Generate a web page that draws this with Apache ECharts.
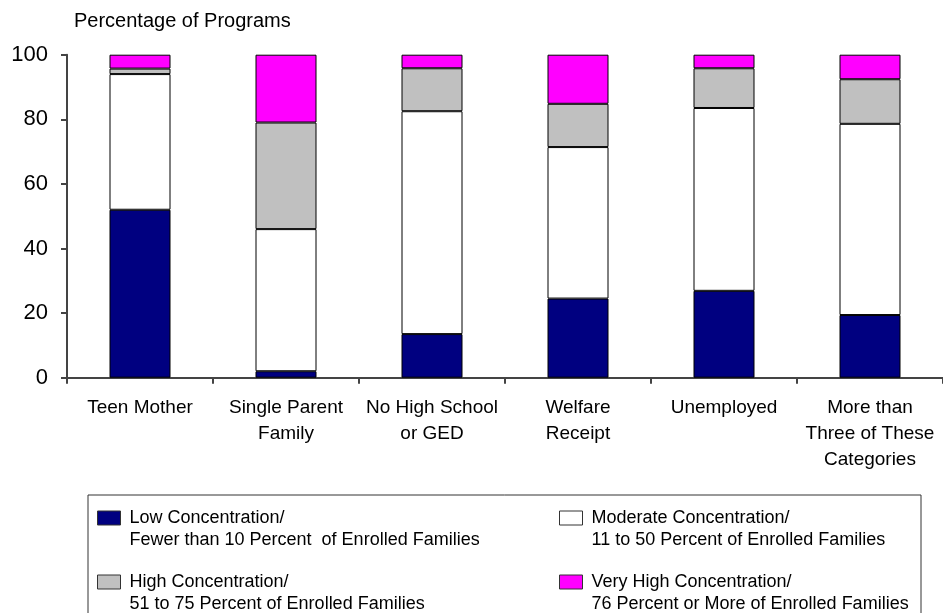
<!DOCTYPE html>
<html>
<head>
<meta charset="utf-8">
<script src="https://cdn.jsdelivr.net/npm/echarts@6/dist/echarts.min.js"></script>
<style>
  html, body { margin: 0; padding: 0; background: #fff; }
  #chart { width: 943px; height: 613px; }
</style>
</head>
<body>
<div id="chart"></div>
<script>
// Program groups along the horizontal axis
const categories = [
  'Teen Mother',
  'Single Parent\nFamily',
  'No High School\nor GED',
  'Welfare\nReceipt',
  'Unemployed',
  'More than\nThree of These\nCategories'
];

// Percentage of programs at each concentration level (stacked to 100)
const lowValues      = [52, 2, 13.5, 24.5, 26.9, 19.4];
const moderateValues = [42, 44, 69, 46.9, 56.6, 59.2];
const highValues     = [1.7, 33, 13.3, 13.4, 12.3, 13.8];
const veryHighValues = [4.3, 21, 4.2, 15.2, 4.2, 7.6];

const seriesNames = [
  'Low Concentration/',
  'Moderate Concentration/',
  'High Concentration/',
  'Very High Concentration/'
];
const legendSubLines = [
  'Fewer than 10 Percent  of Enrolled Families',
  '11 to 50 Percent of Enrolled Families',
  '51 to 75 Percent of Enrolled Families',
  '76 Percent or More of Enrolled Families'
];
const yTicks = [0, 20, 40, 60, 80, 100];
const axisTitle = 'Percentage of Programs';

const colors = ['#000080', '#FFFFFF', '#C0C0C0', '#FF00FF'];
const seriesValues = [lowValues, moderateValues, highValues, veryHighValues];
const FONT = 'Arial, "Liberation Sans", sans-serif';

const chart = echarts.init(document.getElementById('chart'), null, { renderer: 'canvas' });

// Two-column legend grid inside the framed box
const legendPos = [
  { left: 97, top: 485 },
  { left: 559, top: 485 },
  { left: 97, top: 549 },
  { left: 559, top: 549 }
];

const option = {
  animation: false,
  backgroundColor: '#ffffff',
  title: {
    text: axisTitle,
    left: 74,
    top: 11,
    padding: 0,
    textStyle: { fontFamily: FONT, fontSize: 20, fontWeight: 'normal', color: '#000' }
  },
  grid: { left: 67, top: 54.7, width: 884, height: 323 },
  xAxis: {
    type: 'category',
    data: categories,
    axisLine: { show: true, lineStyle: { color: '#444', width: 2 } },
    axisTick: { show: true, length: 6, alignWithLabel: false, lineStyle: { color: '#444', width: 2 } },
    axisLabel: {
      interval: 0,
      margin: 17,
      fontFamily: FONT,
      fontSize: 19,
      lineHeight: 26,
      color: '#000'
    },
    splitLine: { show: false }
  },
  yAxis: {
    type: 'value',
    min: yTicks[0],
    max: yTicks[yTicks.length - 1],
    interval: yTicks[1] - yTicks[0],
    axisLine: { show: true, lineStyle: { color: '#444', width: 2 } },
    axisTick: { show: true, length: 6, lineStyle: { color: '#444', width: 2 } },
    axisLabel: { margin: 19, fontFamily: FONT, fontSize: 22, color: '#000' },
    splitLine: { show: false }
  },
  // A blank leading line keeps the first text line level with the swatch
  legend: seriesNames.map((name, i) => ({
    data: [name],
    left: legendPos[i].left,
    top: legendPos[i].top,
    padding: 0,
    icon: 'rect',
    itemWidth: 23,
    itemHeight: 14,
    selectedMode: false,
    formatter: (n) => ' \n' + n + '\n' + legendSubLines[i],
    itemStyle: { borderColor: '#333', borderWidth: 1 },
    textStyle: {
      fontFamily: FONT,
      fontSize: 18,
      lineHeight: 22,
      color: '#000',
      padding: [0, 0, 0, 4]
    }
  })),
  graphic: [{
    type: 'rect',
    shape: { x: 88, y: 495, width: 833, height: 160 },
    style: { fill: 'none', stroke: '#333', lineWidth: 1 },
    silent: true
  }],
  series: seriesNames.map((name, i) => ({
    name: name,
    type: 'bar',
    stack: 'total',
    barWidth: 61,
    data: seriesValues[i],
    itemStyle: { color: colors[i], borderColor: '#000', borderWidth: 1 }
  }))
};

chart.setOption(option);
</script>
</body>
</html>
